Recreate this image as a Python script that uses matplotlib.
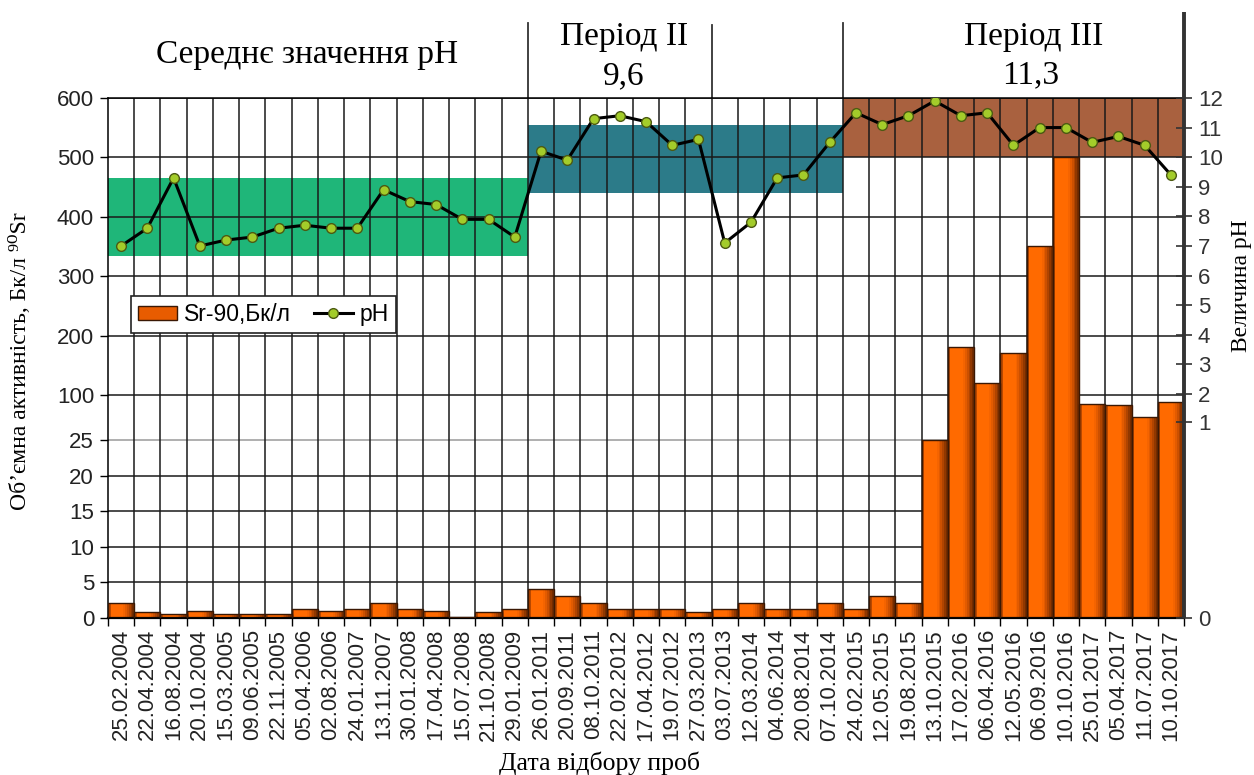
import numpy as np
import matplotlib
matplotlib.use("Agg")
import matplotlib.pyplot as plt
from matplotlib.patches import Patch
from matplotlib.lines import Line2D
from matplotlib.scale import FuncScale

# -----------------------------
# DATA
# -----------------------------
dates = ["25.02.2004", "22.04.2004", "16.08.2004", "20.10.2004", "15.03.2005",
         "09.06.2005", "22.11.2005", "05.04.2006", "02.08.2006", "24.01.2007",
         "13.11.2007", "30.01.2008", "17.04.2008", "15.07.2008", "21.10.2008",
         "29.01.2009", "26.01.2011", "20.09.2011", "08.10.2011", "22.02.2012",
         "17.04.2012", "19.07.2012", "27.03.2013", "03.07.2013", "12.03.2014",
         "04.06.2014", "20.08.2014", "07.10.2014", "24.02.2015", "12.05.2015",
         "19.08.2015", "13.10.2015", "17.02.2016", "06.04.2016", "12.05.2016",
         "06.09.2016", "10.10.2016", "25.01.2017", "05.04.2017", "11.07.2017",
         "10.10.2017"]

sr90 = [2.1, 0.8, 0.6, 1.0, 0.6, 0.6, 0.6, 1.2, 1.0, 1.2,
        2.1, 1.2, 1.0, 0.2, 0.8, 1.2, 4.1, 3.1, 2.1, 1.2,
        1.2, 1.2, 0.8, 1.2, 2.1, 1.2, 1.2, 2.1, 1.2, 3.1,
        2.1, 25, 180, 120, 170, 350, 500, 85, 83, 64,
        88]

ph = [7.0, 7.6, 9.3, 7.0, 7.2, 7.3, 7.6, 7.7, 7.6, 7.6,
      8.9, 8.5, 8.4, 7.9, 7.9, 7.3, 10.2, 9.9, 11.3, 11.4,
      11.2, 10.4, 10.6, 7.1, 7.8, 9.3, 9.4, 10.5, 11.5, 11.1,
      11.4, 11.9, 11.4, 11.5, 10.4, 11.0, 11.0, 10.5, 10.7, 10.4,
      9.4]

# pH ranges of the three periods: first/last sample boundary index, low, high
period_start = [-0.5, 15.5, 27.5]
period_end = [15.5, 27.5, 40.5]
band_lo = [6.65, 8.8, 10.0]
band_hi = [9.3, 11.1, 12.0]
band_colors = ["#1fb679", "#2c7b89", "#a9613f"]

left_ticks = [0, 5, 10, 15, 20, 25, 100, 200, 300, 400, 500, 600]
right_ticks = list(range(13))

# broken axes: value breakpoints -> relative height
left_breaks, left_pos = [0, 25, 100, 600], [0, 178, 223, 520]
right_breaks, right_pos = [0, 1, 2, 12], [0, 196, 224, 520]

SANS = ["Liberation Sans", "DejaVu Sans"]
SERIF = ["Liberation Serif", "DejaVu Serif"]


def piecewise(breaks, pos):
    fwd = lambda v: np.interp(v, breaks, pos)
    inv = lambda p: np.interp(p, pos, breaks)
    return fwd, inv


x = np.arange(len(dates))

fig = plt.figure(figsize=(12.54, 7.75), dpi=100)
ax = fig.add_axes([0.0861, 0.2026, 0.8581, 0.6710])
ax_band = ax.twinx()
ax_ph = ax.twinx()
ax_band.set_zorder(0)
ax.set_zorder(1)
ax_ph.set_zorder(2)
ax.patch.set_visible(False)

ax.set_yscale(FuncScale(ax.yaxis, piecewise(left_breaks, left_pos)))
for a in (ax_band, ax_ph):
    a.set_yscale(FuncScale(a.yaxis, piecewise(right_breaks, right_pos)))
    a.set_ylim(0, 12)
ax.set_ylim(0, 600)
ax.set_xlim(-0.5, len(dates) - 0.5)

# -----------------------------
# BANDS (mean pH of each period)
# -----------------------------
for s, e, lo, hi, c in zip(period_start, period_end, band_lo, band_hi, band_colors):
    ax_band.fill_between([s, e], lo, hi, color=c, linewidth=0)
ax_band.yaxis.set_visible(False)
for sp in ax_band.spines.values():
    sp.set_visible(False)

# -----------------------------
# GRID
# -----------------------------
for t in left_ticks:
    ax.axhline(t, color="#9a9a9a" if t == 25 else "#1a1a1a", lw=1.1, zorder=1)
for b in np.arange(0.5, len(dates) - 0.5):
    ax.axvline(b, color="#1a1a1a", lw=1.1, zorder=1)

# -----------------------------
# BARS with a shaded cylinder look
# -----------------------------
ax.bar(x, sr90, width=1.0, color="#ff6a00", linewidth=0, zorder=2)
ax.bar(x - 0.5, sr90, width=0.1, align="edge", color="#b84800", linewidth=0, zorder=2)
shades = ["#f56400", "#e35b00", "#cc5000", "#b04400", "#913800", "#742c00"]
for k, c in enumerate(shades):
    ax.bar(x + 0.08 + k * 0.07, sr90, width=0.07, align="edge", color=c,
           linewidth=0, zorder=2)
ax.bar(x, sr90, width=1.0, facecolor="none", edgecolor="#3a1804", lw=1.0, zorder=3)

# -----------------------------
# pH LINE
# -----------------------------
ax_ph.plot(x, ph, color="black", lw=2.2, marker="o", ms=7,
           mfc="#a3cc2a", mec="#4c5a12", mew=1.0, zorder=5)

# -----------------------------
# AXES / TICKS
# -----------------------------
ax.set_yticks(left_ticks)
ax.set_yticklabels([str(t) for t in left_ticks], family=SANS, fontsize=16, color="#222")
ax.tick_params(axis="y", direction="out", length=6, width=1, pad=4)
ax.set_xticks(x)
ax.set_xticklabels(dates, rotation=90, family=SANS, fontsize=16, color="#222")
ax.set_xticks(np.arange(-0.5, len(dates)), minor=True)
ax.tick_params(axis="x", which="major", length=0, pad=8)
ax.tick_params(axis="x", which="minor", direction="out", length=6, width=1)
ax.spines["right"].set_visible(False)
ax.spines["top"].set_linewidth(1.1)
ax.spines["left"].set_linewidth(1.1)
ax.spines["bottom"].set_linewidth(1.6)

ax_ph.set_yticks(right_ticks)
ax_ph.set_yticklabels([str(t) for t in right_ticks], family=SANS, fontsize=16, color="#222")
ax_ph.tick_params(axis="y", direction="inout", length=12, width=1.2, pad=4, colors="#333")
for sp in ax_ph.spines.values():
    sp.set_visible(False)
ax_ph.plot([1, 1], [0, 1.165], transform=ax_ph.transAxes, clip_on=False,
           color="#333333", lw=2.8, solid_capstyle="butt")

# separators between periods above the plot
xt = ax.get_xaxis_transform()
for b, top in zip([15.5, 22.5, 27.5], [1.145, 1.140, 1.144]):
    ax.plot([b, b], [1.0, top], transform=xt, clip_on=False, color="#333333", lw=1.3)

# -----------------------------
# TEXTS
# -----------------------------
fig.text(0.245, 0.929, "Середнє значення pH", family=SERIF, fontsize=24,
         ha="center", va="center")
fig.text(0.4976, 0.953, "Період II", family=SERIF, fontsize=24, ha="center", va="center")
fig.text(0.4976, 0.902, "9,6", family=SERIF, fontsize=24, ha="center", va="center")
fig.text(0.824, 0.952, "Період III", family=SERIF, fontsize=24, ha="center", va="center")
fig.text(0.822, 0.903, "11,3", family=SERIF, fontsize=24, ha="center", va="center")

fig.text(0.016, 0.534, "Об’ємна активність, Бк/л ⁹⁰Sr", family=SERIF, fontsize=17,
         rotation=90, ha="center", va="center")
fig.text(0.990, 0.632, "Величина рН", family=SERIF, fontsize=17,
         rotation=90, ha="center", va="center")
fig.text(0.478, 0.0155, "Дата відбору проб", family=SERIF, fontsize=18.5,
         ha="center", va="center")

# -----------------------------
# LEGEND
# -----------------------------
handles = [Patch(facecolor="#e85c00", edgecolor="#3a1804", lw=1.0),
           Line2D([], [], color="black", lw=2.2, marker="o", ms=7,
                  mfc="#a3cc2a", mec="#4c5a12")]
leg = ax_ph.legend(handles, ["Sr-90,Бк/л", "pH"], ncol=2, loc="upper left",
                   bbox_to_anchor=(0.1045, 0.618), bbox_transform=fig.transFigure,
                   borderaxespad=0, fancybox=False, framealpha=1, edgecolor="#222",
                   prop={"family": SANS, "size": 16.5}, handlelength=1.7,
                   handletextpad=0.3, columnspacing=1.0, borderpad=0.3,
                   handleheight=0.6)
leg.get_frame().set_linewidth(1.2)

fig.savefig("out.png", dpi=100)
